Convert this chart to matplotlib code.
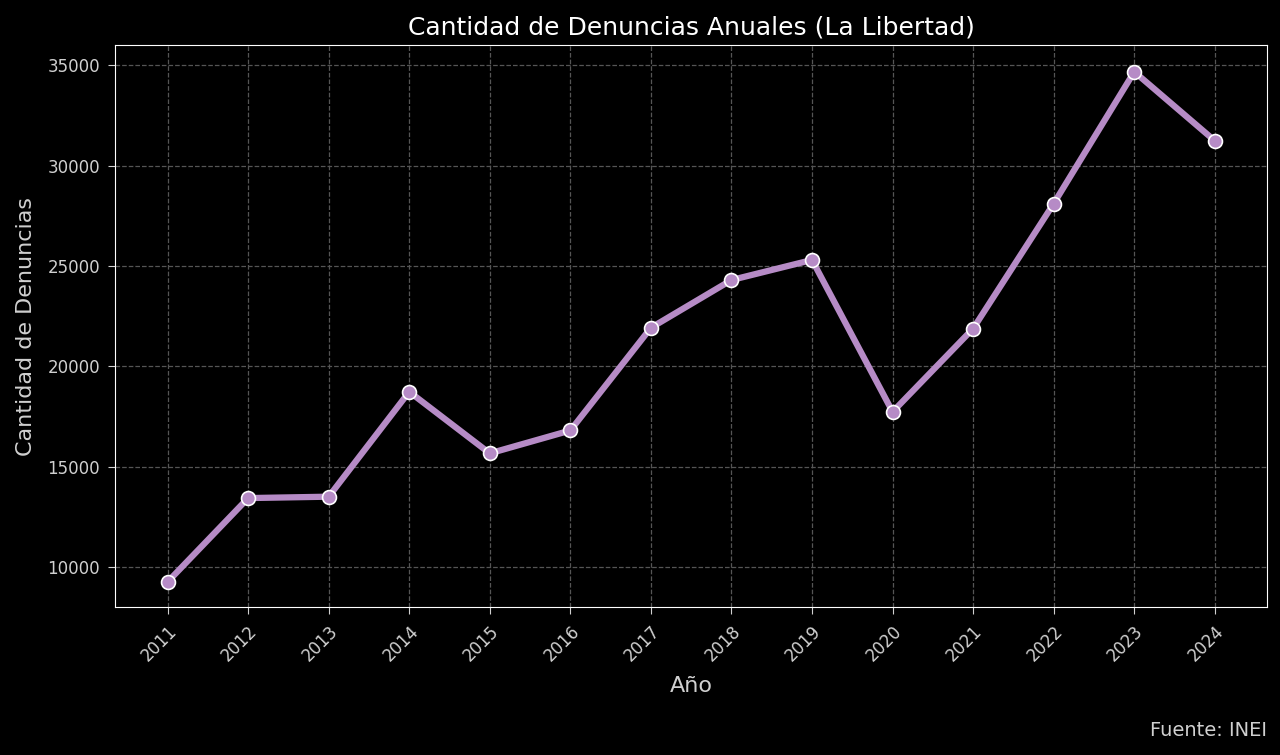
import matplotlib
matplotlib.use("Agg")
import matplotlib.pyplot as plt

years = [2011, 2012, 2013, 2014, 2015, 2016, 2017, 2018, 2019, 2020, 2021, 2022, 2023, 2024]
denuncias = [9250, 13430, 13500, 18730, 15660, 16800, 21920, 24300, 25300, 17730, 21880, 28110, 34680, 31240]

plt.style.use("dark_background")
fig, ax = plt.subplots(figsize=(12.8, 7.55), dpi=100)

ax.plot(years, denuncias, color="#b68bc6", linewidth=4.5, marker="o", markersize=10,
        markerfacecolor="#b68bc6", markeredgecolor="white", markeredgewidth=1.2)

ax.set_title("Cantidad de Denuncias Anuales (La Libertad)", fontsize=18, color="white", pad=8)
ax.set_xlabel("Año", fontsize=16, color="#d0d0d0", labelpad=8)
ax.set_ylabel("Cantidad de Denuncias", fontsize=16, color="#d0d0d0", labelpad=8)
ax.set_xticks(years)
ax.set_xticklabels([str(y) for y in years], rotation=45, ha="right", rotation_mode="anchor")
ax.tick_params(colors="#d0d0d0", labelsize=12, length=5, pad=6)
ax.set_xlim(2010.35, 2024.65)
ax.set_ylim(8000, 36000)
ax.grid(True, linestyle="--", color="#555555", linewidth=0.9)
for s in ax.spines.values():
    s.set_color("white")

fig.text(0.99, 0.02, "Fuente: INEI", ha="right", va="bottom", fontsize=14, color="#d0d0d0")
fig.subplots_adjust(left=0.09, right=0.99, top=0.94, bottom=0.196)
fig.savefig("out.png", dpi=100, facecolor="black")
